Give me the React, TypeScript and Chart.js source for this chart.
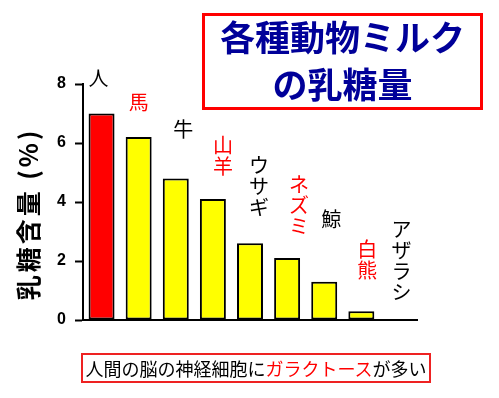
import React, { useEffect, useRef } from 'react';
import { Chart, registerables } from 'chart.js';

Chart.register(...registerables);

const animals = ['人', '馬', '牛', '山羊', 'ウサギ', 'ネズミ', '鯨', '白熊', 'アザラシ'];
const lactose = [7.0, 6.2, 4.8, 4.1, 2.6, 2.1, 1.3, 0.3, 0];
const barColors = ['#FF0000', '#FFFF00', '#FFFF00', '#FFFF00', '#FFFF00', '#FFFF00', '#FFFF00', '#FFFF00', '#FFFF00'];
const labelColors = ['#000000', '#FF0000', '#000000', '#FF0000', '#000000', '#FF0000', '#000000', '#FF0000', '#000000'];
const verticalLabel = [false, false, false, true, true, true, false, true, true];
const labelDx = [-3, 0, 7.5, 10, 9, 12, 7, 6, 3];
const labelDy = [-35, -34.5, -49, -43.5, -57, -53, -62.5, -51, -59.5];
const yAxisTitle = '乳糖含量 (%)';
const titleLines = ['各種動物ミルク', 'の乳糖量'];
const captionPre = '人間の脳の神経細胞に';
const captionRed = 'ガラクトース';
const captionPost = 'が多い';

const CJK = '"Noto Sans CJK JP", "Noto Sans", sans-serif';

const labelPlugin = {
  id: 'barLabels',
  afterDatasetsDraw(chart: any) {
    const ctx = chart.ctx;
    const meta = chart.getDatasetMeta(0);
    ctx.save();
    ctx.font = `20px ${CJK}`;
    ctx.textAlign = 'center';
    ctx.textBaseline = 'middle';
    meta.data.forEach((el: any, i: number) => {
      const x = el.x + labelDx[i];
      const yc = el.y + labelDy[i];
      ctx.fillStyle = labelColors[i];
      const text = animals[i];
      if (verticalLabel[i]) {
        const chars = Array.from(text);
        const pitch = 21;
        const start = yc - ((chars.length - 1) * pitch) / 2;
        chars.forEach((c, k) => ctx.fillText(c, x, start + k * pitch));
      } else {
        ctx.fillText(text, x, yc);
      }
    });
    ctx.restore();
  },
  afterDraw(chart: any) {
    const ctx = chart.ctx;
    const area = chart.chartArea;
    ctx.save();
    ctx.translate(28, (area.top + area.bottom) / 2 + 12);
    ctx.rotate(-Math.PI / 2);
    ctx.font = `bold 25px ${CJK}`;
    try {
      (ctx as any).letterSpacing = '3px';
    } catch (e) {}
    ctx.fillStyle = '#000000';
    ctx.textAlign = 'center';
    ctx.textBaseline = 'middle';
    ctx.fillText(yAxisTitle, 0, 0);
    ctx.restore();
  },
};

export default function App() {
  const ref = useRef<HTMLCanvasElement | null>(null);

  useEffect(() => {
    if (!ref.current) return;
    const chart = new Chart(ref.current, {
      type: 'bar',
      data: {
        labels: animals,
        datasets: [
          {
            data: lactose,
            backgroundColor: barColors,
            borderColor: '#000000',
            borderWidth: 2,
            borderSkipped: false,
            barPercentage: 0.7,
            categoryPercentage: 1.0,
          },
        ],
      },
      options: {
        animation: false,
        responsive: false,
        devicePixelRatio: 1,
        layout: { padding: { top: 84, right: 82, left: 0, bottom: 0 } },
        plugins: { legend: { display: false }, tooltip: { enabled: false }, title: { display: false } },
        scales: {
          x: {
            ticks: { display: false },
            grid: { display: false },
            border: { display: true, color: '#000000', width: 2 },
            afterFit: (s: any) => {
              s.height = 78;
            },
          },
          y: {
            min: 0,
            max: 8,
            ticks: {
              stepSize: 2,
              color: '#000000',
              padding: 9,
              font: { family: '"Liberation Sans", Arial, sans-serif', size: 16, weight: 'bold' },
            },
            grid: {
              display: true,
              drawOnChartArea: false,
              drawTicks: true,
              tickLength: 8,
              tickWidth: 2,
              tickColor: '#000000',
            },
            border: { display: true, color: '#000000', width: 2 },
            afterFit: (s: any) => {
              s.width = 83;
            },
          },
        },
      },
      plugins: [labelPlugin],
    } as any);
    return () => chart.destroy();
  }, []);

  return (
    <div style={{ position: 'fixed', left: 0, top: 0, width: 499, height: 398, background: '#ffffff', overflow: 'hidden' }}>
      <canvas ref={ref} width={499} height={398} style={{ position: 'absolute', left: 0, top: 0, width: 499, height: 398 }} />
      <div
        style={{
          position: 'absolute',
          left: 202,
          top: 13,
          width: 281,
          height: 97,
          border: '3px solid #FF0000',
          boxSizing: 'border-box',
        }}
      />
      {titleLines.map((t, i) => (
        <div
          key={i}
          style={{
            position: 'absolute',
            left: 202,
            width: 281,
            top: (i === 0 ? 36 : 83) - 20,
            height: 40,
            lineHeight: '40px',
            textAlign: 'center',
            fontFamily: CJK,
            fontWeight: 'bold',
            fontSize: 35,
            color: '#000099',
            whiteSpace: 'nowrap',
          }}
        >
          {t}
        </div>
      ))}
      <div
        style={{
          position: 'absolute',
          left: 81,
          top: 353,
          width: 350,
          height: 30,
          border: '2px solid #EE2222',
          boxSizing: 'border-box',
          display: 'flex',
          alignItems: 'center',
          justifyContent: 'center',
          fontFamily: CJK,
          fontSize: 18,
          color: '#000000',
          whiteSpace: 'nowrap',
        }}
      >
        <span>
          {captionPre}
          <span style={{ color: '#FF0000' }}>{captionRed}</span>
          {captionPost}
        </span>
      </div>
    </div>
  );
}
